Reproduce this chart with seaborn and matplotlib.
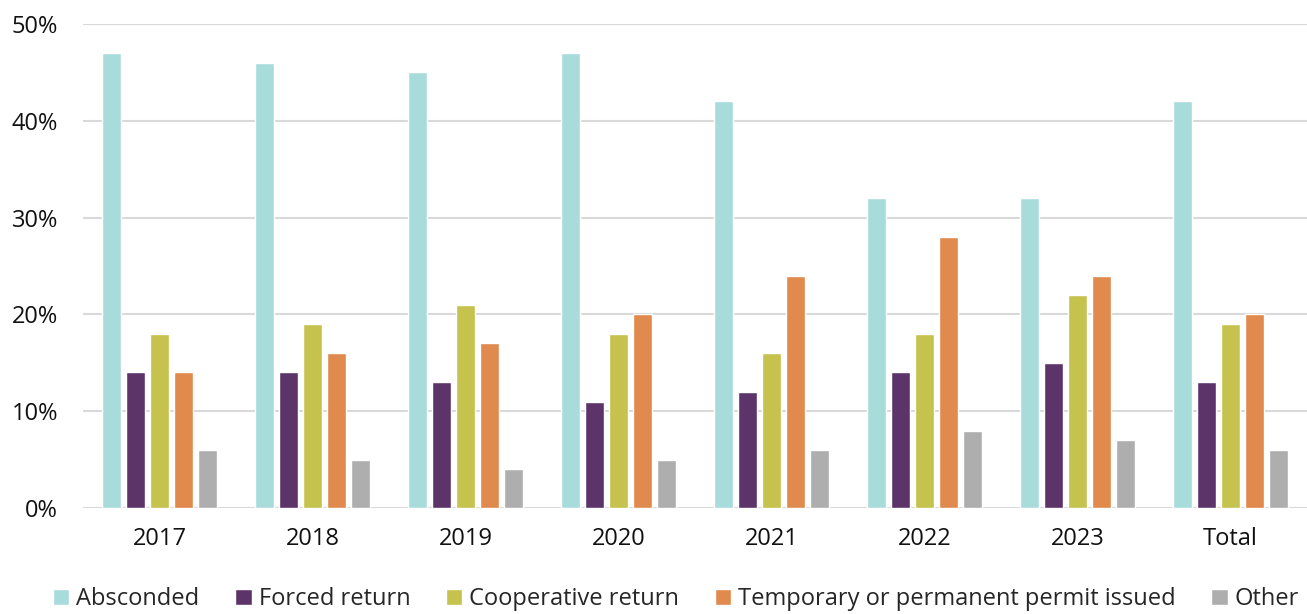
import matplotlib
matplotlib.use("Agg")
import matplotlib.pyplot as plt
import seaborn as sns
import pandas as pd

years = ["2017", "2018", "2019", "2020", "2021", "2022", "2023", "Total"]
series = ["Absconded", "Forced return", "Cooperative return",
          "Temporary or permanent permit issued", "Other"]
absconded = [47, 46, 45, 47, 42, 32, 32, 42]
forced = [14, 14, 13, 11, 12, 14, 15, 13]
cooperative = [18, 19, 21, 18, 16, 18, 22, 19]
permit = [14, 16, 17, 20, 24, 28, 24, 20]
other = [6, 5, 4, 5, 6, 8, 7, 6]
colors = ["#a8dcdb", "#5c346a", "#c5c24d", "#e08a4e", "#aeaeae"]

# long table for seaborn
rows = []
for name, vals in zip(series, [absconded, forced, cooperative, permit, other]):
    for y, v in zip(years, vals):
        rows.append({"Year": y, "Outcome": name, "Share": v})
df = pd.DataFrame(rows)

sns.set_style("white")
plt.rcParams["font.family"] = ["Open Sans", "DejaVu Sans"]

fig = plt.figure(figsize=(13.07, 6.14), dpi=100)
ax = fig.add_axes([0.0635, 0.1726, 0.9365, 0.7884])
sns.barplot(data=df, x="Year", y="Share", hue="Outcome", hue_order=series,
            palette=colors, width=0.78, gap=0.2, ax=ax, saturation=1)

ax.set_ylim(0, 50)
ax.set_xlim(-0.5, 7.5)
ax.set_yticks(range(0, 51, 10))
ax.set_yticklabels([f"{t}%" for t in range(0, 51, 10)])
ax.yaxis.grid(True, color="#d9d9d9", linewidth=1.5)
ax.set_axisbelow(True)
for s in ax.spines.values():
    s.set_visible(False)
ax.tick_params(axis="both", length=0, labelsize=17, colors="#111111")
ax.tick_params(axis="x", pad=14)
ax.tick_params(axis="y", pad=18)
ax.set_xlabel("")
ax.set_ylabel("")

leg = ax.legend(loc="center", bbox_to_anchor=(0.4845, -0.188), ncol=5,
                frameon=False, fontsize=17, handlelength=0.7, handleheight=0.7,
                columnspacing=1.5, handletextpad=0.3)

fig.savefig("out.png", dpi=100)
